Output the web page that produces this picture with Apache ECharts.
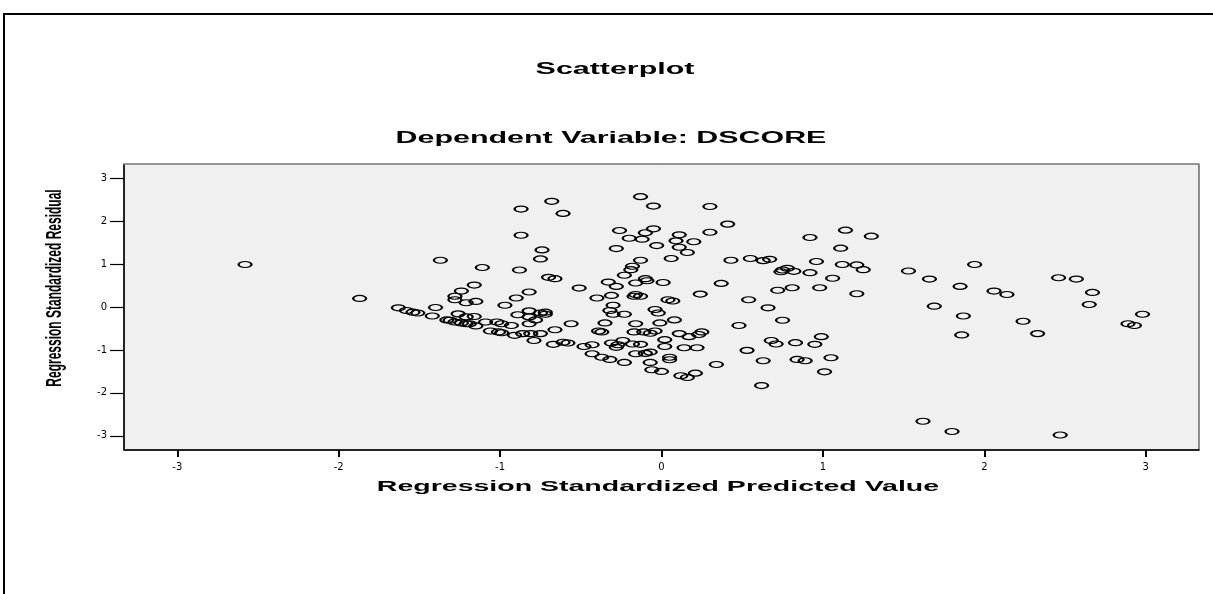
<!DOCTYPE html>
<html>
<head>
<meta charset="utf-8">
<title>Scatterplot</title>
<script src="https://cdn.jsdelivr.net/npm/echarts@6/dist/echarts.min.js"></script>
<style>
html, body { margin: 0; padding: 0; background: #fff; }
#chart { width: 1213px; height: 594px; }
</style>
</head>
<body>
<div id="chart"></div>
<script>
// regression standardized predicted value (x) / standardized residual (y)
var predicted = [
  -2.58,
  -1.37, -1.87, -1.11, -1.16, -1.24, -1.28, -1.28, -1.21, -1.15, -1.40, -1.63, -1.58, -1.54, -1.51,
  -1.42, -1.26, -1.21, -1.16, -1.33, -1.31, -1.28, -1.24, -1.21, -1.19, -1.15, -1.09, -1.06,
  -0.87, -0.68, -0.61, -0.87, -0.74, -0.75, -0.88, -0.70, -0.66, -0.51, -0.82, -0.90, -0.97, -0.82,
  -0.75, -0.72, -0.72, -0.89, -0.82, -0.78, -0.82, -1.02, -0.99, -0.93, -1.01, -0.99, -0.91, -0.86,
  -0.81, -0.75, -0.66, -0.56, -0.79, -0.67, -0.61, -0.58, -0.48, -0.43, -0.43, -0.37, -0.32, -0.23,
  -0.39, -0.37, -0.35, -0.16, -0.30, -0.23, -0.32, -0.30, -0.40, -0.31, -0.33, -0.28, -0.23, -0.18,
  -0.19, -0.16, -0.17, -0.16, -0.28, -0.26, -0.20, -0.13, -0.31, -0.28, -0.27, -0.24, -0.18, -0.17,
  -0.16,
  -0.05, 0.30, 0.41, 0.30, -0.05, -0.10, -0.12, -0.03, 0.11, 0.09, 0.11, 0.16, 0.20, 0.06, 0.43,
  0.55, 0.63, 0.67, 0.75, 0.78, -0.13, -0.10, -0.09, 0.01, 0.37, 0.24, 0.54, 0.66, 0.75, -0.13,
  0.04, 0.07, -0.04, -0.02, -0.01, 0.08, -0.11, -0.07, -0.04, -0.13, -0.10, -0.07, 0.02, 0.02,
  0.05, 0.05, -0.07, -0.06, 0.00, 0.11, 0.17, 0.23, 0.25, 0.14, 0.22, 0.12, 0.16, 0.21, 0.34,
  0.48, 0.53, 0.63, 0.62, 0.72, 0.68, 0.71,
  1.14, 0.92, 1.30, 1.11, 0.96, 1.12, 1.21, 1.25, 0.82, 0.74, 0.92, 1.06, 0.81, 0.98, 1.21,
  1.53, 1.66, 1.85, 1.94, 1.69, 1.87, 1.86, 0.99, 0.83, 0.95, 0.84, 0.89, 1.05, 1.01, 1.62, 1.80,
  2.46, 2.57, 2.06, 2.14, 2.67, 2.65, 2.24, 2.33, 2.98, 2.89, 2.93, 2.47
];
var residual = [
  0.99,
  1.09, 0.20, 0.92, 0.51, 0.37, 0.25, 0.17, 0.10, 0.13, -0.01, -0.02, -0.08, -0.12, -0.14,
  -0.21, -0.16, -0.23, -0.22, -0.30, -0.31, -0.35, -0.37, -0.39, -0.39, -0.44, -0.35, -0.56,
  2.28, 2.46, 2.18, 1.67, 1.33, 1.12, 0.86, 0.69, 0.66, 0.44, 0.35, 0.21, 0.04, -0.09,
  -0.14, -0.12, -0.17, -0.18, -0.23, -0.30, -0.39, -0.35, -0.39, -0.43, -0.58, -0.60, -0.66, -0.62,
  -0.62, -0.62, -0.53, -0.39, -0.78, -0.87, -0.82, -0.84, -0.92, -0.88, -1.09, -1.17, -1.22, -1.29,
  -0.56, -0.58, -0.37, -0.39, -0.17, -0.17, -0.08, 0.04, 0.21, 0.27, 0.58, 0.48, 0.74, 0.95,
  0.87, 0.56, 0.25, 0.29, 1.36, 1.78, 1.60, 2.57, -0.84, -0.94, -0.88, -0.78, -0.86, -0.58,
  -1.09,
  2.35, 2.34, 1.93, 1.74, 1.82, 1.73, 1.58, 1.43, 1.68, 1.54, 1.39, 1.27, 1.52, 1.13, 1.09,
  1.13, 1.08, 1.11, 0.86, 0.90, 1.09, 0.66, 0.61, 0.57, 0.55, 0.30, 0.17, -0.02, -0.31, 0.25,
  0.17, 0.14, -0.06, -0.14, -0.37, -0.30, -0.58, -0.61, -0.56, -0.87, -1.08, -1.05, -0.76, -0.92,
  -1.17, -1.23, -1.29, -1.46, -1.50, -0.62, -0.69, -0.64, -0.58, -0.95, -0.95, -1.60, -1.64, -1.54, -1.34,
  -0.43, -1.01, -1.25, -1.83, 0.39, -0.78, -0.86,
  1.79, 1.62, 1.65, 1.37, 1.06, 0.99, 0.98, 0.87, 0.83, 0.82, 0.80, 0.67, 0.45, 0.45, 0.31,
  0.84, 0.65, 0.48, 0.99, 0.02, -0.21, -0.65, -0.69, -0.83, -0.87, -1.22, -1.25, -1.18, -1.51, -2.66, -2.90,
  0.68, 0.65, 0.37, 0.29, 0.34, 0.06, -0.33, -0.62, -0.17, -0.39, -0.43, -2.98
];
var xTicks = [-3, -2, -1, 0, 1, 2, 3];
var yTicks = [-3, -2, -1, 0, 1, 2, 3];
var axisLimit = 3.33;

var points = predicted.map(function (x, i) {
  return [x, residual[i]];
});

var chart = echarts.init(document.getElementById('chart'));
var option = {
  animation: false,
  backgroundColor: '#fff',
  grid: {
    left: 124,
    right: 14,
    top: 164,
    bottom: 144,
    show: true,
    backgroundColor: '#f0f0f0',
    borderColor: '#222',
    borderWidth: 1
  },
  xAxis: [
    {
      type: 'value',
      min: -axisLimit,
      max: axisLimit,
      axisLine: { show: true, onZero: false, lineStyle: { color: '#000', width: 1.5 } },
      axisTick: { show: true, customValues: xTicks, length: 7, lineStyle: { color: '#000', width: 2 } },
      axisLabel: { customValues: xTicks, margin: 12, fontSize: 10, color: '#000', fontFamily: 'DejaVu Sans' },
      splitLine: { show: false }
    },
    {
      // grey top edge of the plot frame
      type: 'value',
      position: 'top',
      min: -axisLimit,
      max: axisLimit,
      axisLine: { show: true, onZero: false, lineStyle: { color: '#999', width: 1.5 } },
      axisTick: { show: false },
      axisLabel: { show: false },
      splitLine: { show: false }
    }
  ],
  yAxis: {
    type: 'value',
    min: -axisLimit,
    max: axisLimit,
    axisLine: { show: true, onZero: false, lineStyle: { color: '#000', width: 1.5 } },
    axisTick: { show: true, customValues: yTicks, length: 14, lineStyle: { color: '#000', width: 1.2 } },
    axisLabel: { customValues: yTicks, margin: 17, fontSize: 10, color: '#000', fontFamily: 'DejaVu Sans' },
    splitLine: { show: false }
  },
  graphic: [
    {
      type: 'rect',
      z: -10,
      shape: { x: 4, y: 14, width: 1230, height: 620 },
      style: { fill: 'none', stroke: '#000', lineWidth: 2 }
    },
    {
      type: 'text',
      x: 615, y: 70, scaleX: 1.9,
      style: { text: 'Scatterplot', fontFamily: 'Liberation Sans', fontWeight: 'bold', fontSize: 16,
        fill: '#000', align: 'center', verticalAlign: 'middle' }
    },
    {
      type: 'text',
      x: 611, y: 139, scaleX: 1.9,
      style: { text: 'Dependent Variable: DSCORE', fontFamily: 'Liberation Sans', fontWeight: 'bold', fontSize: 16,
        fill: '#000', align: 'center', verticalAlign: 'middle' }
    },
    {
      type: 'text',
      x: 658, y: 487, scaleX: 1.9,
      style: { text: 'Regression Standardized Predicted Value', fontFamily: 'Liberation Sans', fontWeight: 'bold',
        fontSize: 15, fill: '#000', align: 'center', verticalAlign: 'middle' }
    },
    {
      type: 'text',
      x: 55, y: 288, rotation: Math.PI / 2, scaleY: 1.9,
      style: { text: 'Regression Standardized Residual', fontFamily: 'Liberation Sans', fontWeight: 'bold',
        fontSize: 12, fill: '#000', align: 'center', verticalAlign: 'middle' }
    }
  ],
  series: [
    {
      type: 'scatter',
      data: points,
      symbol: 'path://M0 5A5 5 0 1 1 10 5A5 5 0 1 1 0 5Z',
      symbolSize: [13, 6],
      itemStyle: { color: 'rgba(0,0,0,0)', borderColor: '#000', borderWidth: 1.6, opacity: 1 },
      silent: true
    }
  ]
};
chart.setOption(option);
</script>
</body>
</html>
